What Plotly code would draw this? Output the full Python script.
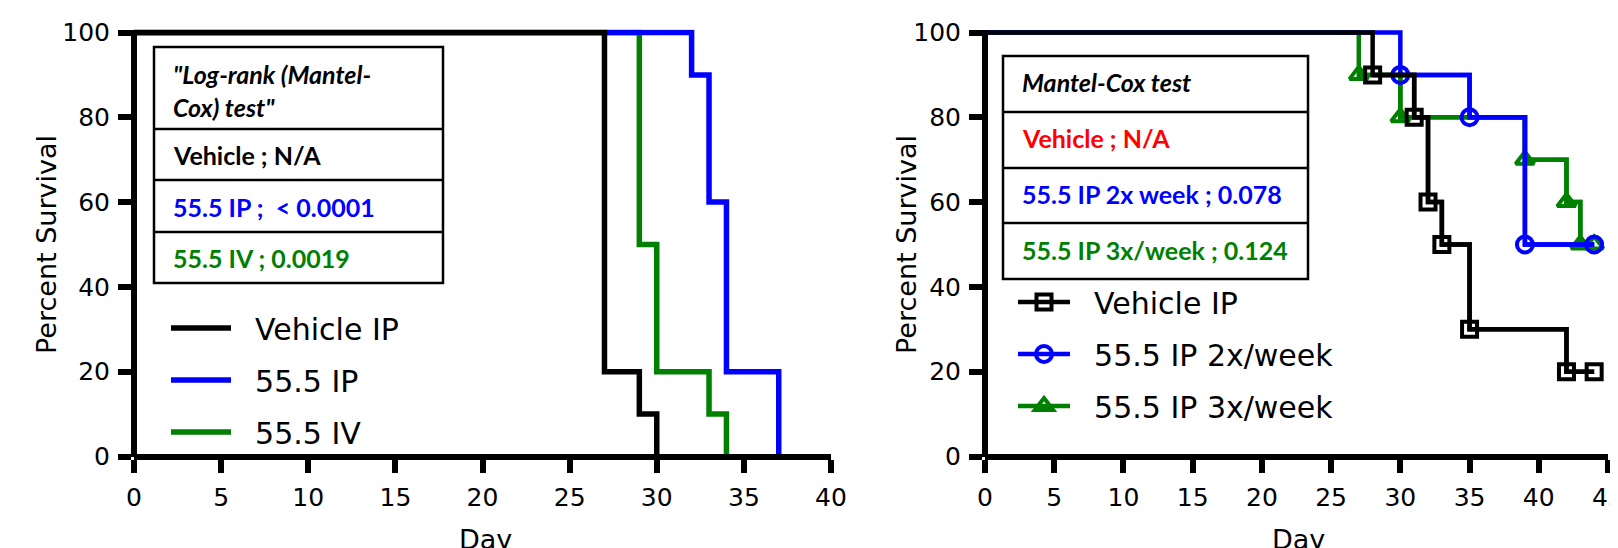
import plotly.graph_objects as go

W, H = 1618, 548
OFF = 8  # browser body margin
FW, FH = W - OFF, H - OFF

# ---------------- data ----------------
# Left panel (Kaplan-Meier steps)
left_names = ["Vehicle IP", "55.5 IP", "55.5 IV"]
left_vehicle_day = [0, 27, 29, 30]
left_vehicle_surv = [100, 20, 10, 0]
left_ip_day = [0, 32, 33, 34, 37]
left_ip_surv = [100, 90, 60, 20, 0]
left_iv_day = [0, 29, 30, 33, 34]
left_iv_surv = [100, 50, 20, 10, 0]

# Right panel
right_names = ["Vehicle IP", "55.5 IP 2x/week", "55.5 IP 3x/week"]
right_vehicle_day = [0, 28, 31, 32, 33, 35, 42, 44]
right_vehicle_surv = [100, 90, 80, 60, 50, 30, 20, 20]
right_2x_day = [0, 30, 35, 39, 44]
right_2x_surv = [100, 90, 80, 50, 50]
right_3x_day = [0, 27, 30, 39, 42, 43, 44]
right_3x_surv = [100, 90, 80, 70, 60, 50, 50]

y_ticks = [0, 20, 40, 60, 80, 100]
left_x_ticks = [0, 5, 10, 15, 20, 25, 30, 35, 40]
right_x_ticks = [0, 5, 10, 15, 20, 25, 30, 35, 40, 45]

left_table = ['<b><i>"Log-rank (Mantel-<br>Cox) test"</i></b>',
              "<b>Vehicle ; N/A</b>",
              "<b>55.5 IP ;  &lt; 0.0001</b>",
              "<b>55.5 IV ; 0.0019</b>"]
left_table_colors = ["black", "black", "#0000FF", "#008000"]
right_table = ["<b><i>Mantel-Cox test</i></b>",
               "<b>Vehicle ; N/A</b>",
               "<b>55.5 IP 2x week ; 0.078</b>",
               "<b>55.5 IP 3x/week ; 0.124</b>"]
right_table_colors = ["black", "#FF0000", "#0000FF", "#008000"]

BLACK, BLUE, GREEN = "#000000", "#0000FF", "#008000"


def px(x):
    return (x - OFF) / FW


def py(y):
    return 1 - (y - OFF) / FH


NB = "\u00a0\u00a0"

fig = go.Figure()

# left traces: draw order green, blue, black
fig.add_trace(go.Scatter(x=left_iv_day, y=left_iv_surv, mode="lines", line_shape="hv",
                         line=dict(color=GREEN, width=5.5), name=NB + left_names[2],
                         legend="legend", legendgroup="l3", legendrank=3,
                         xaxis="x", yaxis="y"))
fig.add_trace(go.Scatter(x=left_ip_day, y=left_ip_surv, mode="lines", line_shape="hv",
                         line=dict(color=BLUE, width=5.5), name=NB + left_names[1],
                         legend="legend", legendgroup="l2", legendrank=2,
                         xaxis="x", yaxis="y"))
fig.add_trace(go.Scatter(x=left_vehicle_day, y=left_vehicle_surv, mode="lines", line_shape="hv",
                         line=dict(color=BLACK, width=5.5), name=NB + left_names[0],
                         legend="legend", legendgroup="l1", legendrank=1,
                         xaxis="x", yaxis="y"))


def right_series(days, surv, color, symbol, size, name, group, rank):
    # full step curve (starting at day 0, 100 %)
    fig.add_trace(go.Scatter(x=days, y=surv, mode="lines", line_shape="hv",
                             line=dict(color=color, width=4.5), showlegend=False,
                             legendgroup=group, hoverinfo="skip",
                             xaxis="x2", yaxis="y2"))
    # event points with symbols (same step curve from first event on)
    fig.add_trace(go.Scatter(x=days[1:], y=surv[1:], mode="lines+markers", line_shape="hv",
                             line=dict(color=color, width=4.5),
                             marker=dict(symbol=symbol, size=size, color=color,
                                         line=dict(width=4, color=color)),
                             cliponaxis=False, name=NB + name,
                             legend="legend2", legendgroup=group, legendrank=rank,
                             xaxis="x2", yaxis="y2"))


right_series(right_3x_day, right_3x_surv, GREEN, "triangle-up-open", 16, right_names[2], "r3", 3)
right_series(right_2x_day, right_2x_surv, BLUE, "circle-open", 16, right_names[1], "r2", 2)
right_series(right_vehicle_day, right_vehicle_surv, BLACK, "square-open", 15, right_names[0], "r1", 1)

tick_font = dict(family="DejaVu Sans", size=25, color="black")
Y0, Y100 = 456.5, 32.5
unit = (Y0 - Y100) / 100
y_dom = [py(Y0), py(Y100 - 0.7 * unit)]
ax_common = dict(showgrid=False, zeroline=False, showline=True, linewidth=6, linecolor="black",
                 ticks="outside", ticklen=13, tickwidth=6, tickcolor="black",
                 tickfont=tick_font, anchor="free", ticklabeloverflow="allow")

fig.update_layout(
    width=FW, height=FH,
    margin=dict(l=0, r=0, t=0, b=0, autoexpand=False),
    paper_bgcolor="white", plot_bgcolor="white",
    xaxis=dict(domain=[px(134), px(831)], range=[0, 40], tickvals=left_x_ticks,
               position=y_dom[0], ticklabelstandoff=3, **ax_common),
    yaxis=dict(domain=y_dom, range=[0, 100.7], tickvals=y_ticks,
               position=px(134), ticklabelstandoff=3, **ax_common),
    xaxis2=dict(domain=[px(985), px(1608)], range=[0, 45], tickvals=right_x_ticks,
                position=y_dom[0], ticklabelstandoff=3, **ax_common),
    yaxis2=dict(domain=y_dom, range=[0, 100.7], tickvals=y_ticks,
                position=px(985), ticklabelstandoff=3, **ax_common),
    legend=dict(x=px(166), y=py(302), xanchor="left", yanchor="top",
                font=dict(family="DejaVu Sans", size=30, color="black"),
                itemwidth=60, traceorder="grouped", tracegroupgap=10,
                bgcolor="rgba(0,0,0,0)", borderwidth=0),
    legend2=dict(x=px(1013), y=py(276), xanchor="left", yanchor="top",
                 font=dict(family="DejaVu Sans", size=30, color="black"),
                 itemwidth=52, traceorder="grouped", tracegroupgap=10,
                 bgcolor="rgba(0,0,0,0)", borderwidth=0),
    showlegend=True,
)

shapes = []


def table(x0, x1, ys):
    shapes.append(dict(type="rect", xref="paper", yref="paper",
                       x0=px(x0), x1=px(x1), y0=py(ys[-1]), y1=py(ys[0]),
                       line=dict(color="black", width=2.5), fillcolor="rgba(0,0,0,0)"))
    for yy in ys[1:-1]:
        shapes.append(dict(type="line", xref="paper", yref="paper",
                           x0=px(x0), x1=px(x1), y0=py(yy), y1=py(yy),
                           line=dict(color="black", width=2.5)))


table(154, 443, [47, 129, 180, 232, 283])
table(1003, 1308, [56, 112, 168, 223, 279])
fig.update_layout(shapes=shapes)

ann = []
tfont = "Lato"
left_rows_y = [90, 155, 207, 258]
for t, c, yy in zip(left_table, left_table_colors, left_rows_y):
    ann.append(dict(text=t, x=px(171), y=py(yy), xref="paper", yref="paper",
                    xanchor="left", yanchor="middle", showarrow=False, align="left",
                    font=dict(family=tfont, size=25, color=c)))
right_rows_y = [82, 138, 194, 250]
for t, c, yy in zip(right_table, right_table_colors, right_rows_y):
    ann.append(dict(text=t, x=px(1020), y=py(yy), xref="paper", yref="paper",
                    xanchor="left", yanchor="middle", showarrow=False, align="left",
                    font=dict(family=tfont, size=25, color=c)))

title_font = dict(family="DejaVu Sans", size=27, color="black")
for xx in [46, 906]:
    ann.append(dict(text="Percent Survival", x=px(xx), y=py(245), xref="paper", yref="paper",
                    xanchor="center", yanchor="middle", textangle=-90, showarrow=False,
                    font=title_font))
for xx in [485, 1298]:
    ann.append(dict(text="Day", x=px(xx), y=py(539), xref="paper", yref="paper",
                    xanchor="center", yanchor="middle", showarrow=False, font=title_font))
fig.update_layout(annotations=ann)

fig.write_html("out.html")
